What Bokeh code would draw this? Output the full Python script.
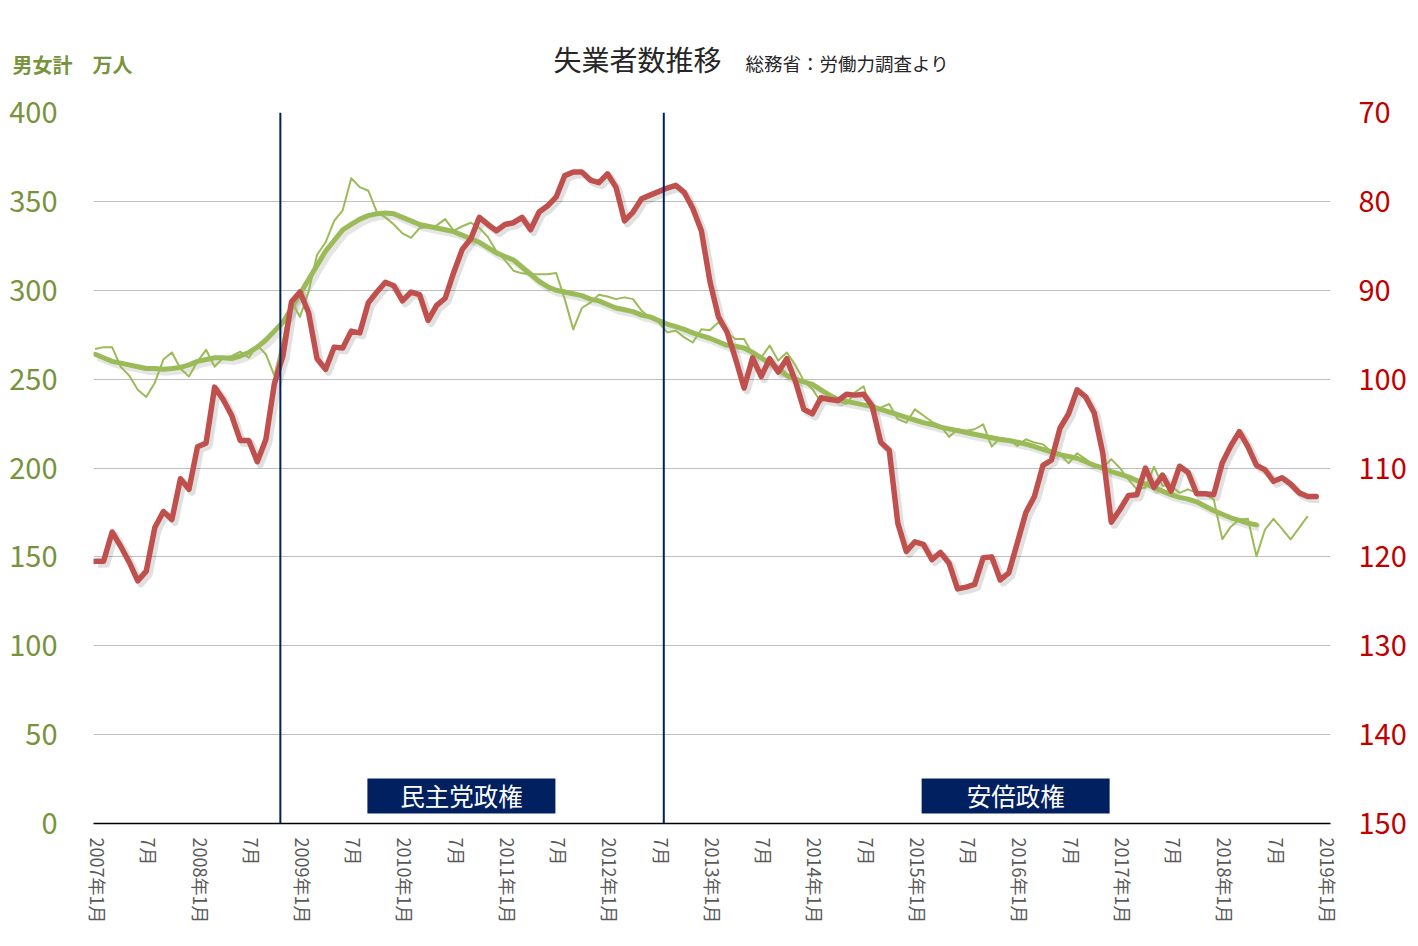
from bokeh.plotting import figure
from bokeh.models import Range1d, LinearAxis, FixedTicker, Span, ColumnDataSource
from bokeh.layouts import column
from bokeh.embed import file_html
from bokeh.resources import INLINE
from bokeh.core.properties import value

# ---------------- data ----------------
# month index 0 = 2007年1月
tick_months = [0, 6, 12, 18, 24, 30, 36, 42, 48, 54, 60, 66, 72, 78, 84, 90,
               96, 102, 108, 114, 120, 126, 132, 138, 144]
tick_labels = ["2007年1月", "7月", "2008年1月", "7月", "2009年1月", "7月",
               "2010年1月", "7月", "2011年1月", "7月", "2012年1月", "7月",
               "2013年1月", "7月", "2014年1月", "7月", "2015年1月", "7月",
               "2016年1月", "7月", "2017年1月", "7月", "2018年1月", "7月",
               "2019年1月"]

# 失業者数 (男女計, 万人) monthly
unemployed = [
    267, 268, 268, 257, 252, 244, 240, 248, 261, 265, 256, 251.5,
    260, 266.5, 257, 262, 263, 265.5, 262, 269, 264, 252, 272, 294,
    285, 299, 320, 327, 339, 345, 363, 358, 356, 344, 341, 337,
    332, 329.5, 335, 335.5, 336.5, 340, 333.5, 336, 338, 335, 330, 322,
    317, 311, 309.5, 309, 309, 309, 309.7, 295, 278, 290, 293, 297.5,
    296.5, 295, 296, 295, 288.5, 284.5, 282, 276.3, 277.2, 273.5, 270.6, 278.1,
    277.5, 282, 276, 272.6, 272.6, 264, 262, 268.9, 260.4, 265, 258, 249,
    244.5, 237, 240.7, 238, 236, 242.6, 246, 231, 234, 236, 227.5, 225.5,
    233, 229.5, 226, 223.8, 217.5, 221.8, 221, 221.8, 224.6, 212, 217, 216,
    212.4, 216.2, 214.3, 213.3, 209, 207.7, 202.6, 208.3, 205, 201, 200, 205,
    200, 193.6, 188, 189, 200.7, 190, 190, 186, 188, 186, 185, 182.3,
    160, 167, 171, 171.4, 150.3, 165.4, 171.4, 165.8, 159.8, 166.3, 172.9,
]

# 移動平均 (万人)
unemployed_avg = [
    264, 262, 260, 259, 258, 257, 256, 256, 255.6, 256, 256.6, 258,
    260, 261, 262, 262, 261.6, 263, 265, 268, 272, 277, 282, 290,
    298, 306, 314, 322, 328, 334, 337, 340, 342, 343, 343.5, 343,
    341, 339, 337, 336, 335, 334, 333, 331, 329, 327, 324, 321,
    319, 317, 313, 309, 305, 302, 300, 299, 298, 297, 295, 294,
    292, 290, 289, 288, 286, 285, 283, 281, 279.5, 278, 276, 274.5,
    273, 271, 269, 268.5, 267.5, 265, 262, 259, 256, 252, 250, 248.5,
    247, 244, 241, 238.5, 237.5, 236.5, 235.5, 234.5, 233, 231.5, 230, 228.5,
    227, 225.5, 224.5, 223, 222, 221, 220, 219, 218, 217, 216, 215.5,
    214.5, 213.5, 212, 210.5, 209, 207.5, 206.5, 205.5, 203.5, 201.5, 200, 198,
    196.5, 195, 193, 191, 189, 187, 185, 183.5, 182.5, 181, 178.5, 176,
    174, 172, 170.5, 169, 168,
]

# 右軸 (反転目盛)
right_series = [
    120.5, 120.5, 117.2, 118.8, 120.6, 122.7, 121.6, 116.7, 114.9, 115.8, 111.2, 112.4,
    107.6, 107.2, 100.9, 102.3, 104.1, 106.9, 106.9, 109.3, 106.8, 100.5, 97.4, 91.3,
    90.2, 92.5, 97.7, 98.9, 96.4, 96.5, 94.6, 94.8, 91.4, 90.2, 89.1, 89.5,
    91.2, 90.2, 90.5, 93.4, 91.7, 90.9, 88.0, 85.4, 84.2, 81.8, 82.6, 83.3,
    82.6, 82.4, 81.8, 83.2, 81.2, 80.5, 79.5, 77.1, 76.7, 76.7, 77.6, 77.9,
    76.9, 78.4, 82.2, 81.2, 79.7, 79.3, 78.9, 78.5, 78.2, 79.0, 80.8, 83.3,
    89.0, 93.0, 94.7, 97.7, 101.0, 97.6, 99.7, 97.7, 99.2, 97.7, 100.2, 103.4,
    103.9, 102.1, 102.3, 102.4, 101.7, 101.8, 101.7, 103.0, 107.1, 108.0, 116.2, 119.4,
    118.3, 118.6, 120.3, 119.5, 120.7, 123.6, 123.4, 123.1, 120.1, 120.0, 122.6, 121.8,
    118.4, 115.0, 113.2, 109.7, 109.1, 105.5, 103.9, 101.2, 102.0, 103.8, 108.3, 116.1,
    114.7, 113.1, 113.0, 110.0, 112.2, 110.8, 112.6, 109.8, 110.5, 112.9, 112.9, 113.0,
    109.4, 107.5, 105.9, 107.6, 109.7, 110.2, 111.5, 111.1, 111.8, 112.8, 113.2, 113.2,
]

left_ticks = [0, 50, 100, 150, 200, 250, 300, 350, 400]
right_ticks = [70, 80, 90, 100, 110, 120, 130, 140, 150]

# regime markers (month index positions) and labels
regime_lines = [21.7, 66.6]
regime_names = ["民主党政権", "安倍政権"]
regime_label_x = [42.9, 107.8]
regime_label_y = [15.5, 15.5]

title_text = "失業者数推移"
subtitle_text = "総務省：労働力調査より"
unit_text = "男女計　万人"

# ---------------- styles ----------------
FONT = "Noto Sans CJK JP"
GREEN = "#9BBB59"
GREEN_TXT = "#77933C"
RED = "#C0504D"
NAVY = "#002060"
W = 1410
HEADER_H = 80

# ---------------- header (title strip) ----------------
hdr = figure(width=W, height=HEADER_H, output_backend="svg", toolbar_location=None,
             x_range=Range1d(0, W), y_range=Range1d(HEADER_H, 0),
             min_border_left=0, min_border_right=0, min_border_top=0,
             min_border_bottom=0)
try:
    hdr.frame_align = False
except Exception:
    pass
hdr.axis.visible = False
hdr.grid.visible = False
hdr.outline_line_color = None
hdr.border_fill_color = "white"
hdr.text(x=[553], y=[58], text=[title_text], text_font=value(FONT),
         text_font_size="28px", text_color="#262626", text_baseline="middle",
         text_align="left")
hdr.text(x=[745], y=[62], text=[subtitle_text], text_font=value(FONT),
         text_font_size="18.5px", text_color="#262626", text_baseline="middle",
         text_align="left")
hdr.text(x=[12], y=[64], text=[unit_text], text_font=value(FONT),
         text_font_size="20px", text_color=GREEN_TXT, text_font_style="bold",
         text_baseline="middle", text_align="left")

# ---------------- main figure ----------------
x0, x1 = -0.18, 144.67
p = figure(width=W, height=938 - HEADER_H, output_backend="svg", toolbar_location=None,
           x_range=Range1d(x0, x1), y_range=Range1d(0, 400),
           min_border_left=93, min_border_right=80, min_border_top=112 - HEADER_H,
           min_border_bottom=115)
p.outline_line_color = None
p.background_fill_color = "white"
p.border_fill_color = "white"

p.extra_y_ranges = {"right": Range1d(start=150, end=70)}

# shadow ranges (shift drawing ~3px right/down)
dx = 3 / 8.54
dyl = 3 * 400 / 711
dyr = 3 * 80 / 711
p.extra_x_ranges = {"sh": Range1d(x0 - dx, x1 - dx)}
p.extra_y_ranges["shl"] = Range1d(0 + dyl, 400 + dyl)
p.extra_y_ranges["shr"] = Range1d(start=150 - dyr, end=70 - dyr)

# grid
p.xgrid.visible = False
p.ygrid.ticker = FixedTicker(ticks=left_ticks)
p.ygrid.grid_line_color = "#BFBFBF"
p.ygrid.grid_line_width = 1

# left axis
ya = p.yaxis[0]
ya.ticker = FixedTicker(ticks=left_ticks)
ya.axis_line_color = None
ya.major_tick_line_color = None
ya.minor_tick_line_color = None
ya.major_tick_out = 0
ya.major_label_text_color = GREEN_TXT
ya.major_label_text_font = FONT
ya.major_label_text_font_size = "29px"
ya.major_label_standoff = 36

# right axis
ra = LinearAxis(y_range_name="right", ticker=FixedTicker(ticks=right_ticks))
ra.axis_line_color = None
ra.major_tick_line_color = None
ra.minor_tick_line_color = None
ra.major_tick_out = 0
ra.major_label_text_color = "#C00000"
ra.major_label_text_font = FONT
ra.major_label_text_font_size = "29px"
ra.major_label_standoff = 28
p.add_layout(ra, "right")

# bottom axis
xa = p.xaxis[0]
label_pos = [m + 0.35 for m in tick_months]
xa.ticker = FixedTicker(ticks=label_pos)
xa.major_label_overrides = {pos: lab for pos, lab in zip(label_pos, tick_labels)}
xa.major_label_orientation = "vertical"
xa.axis_line_color = "black"
xa.axis_line_width = 1.5
xa.major_tick_line_color = None
xa.minor_tick_line_color = None
xa.major_tick_out = 0
xa.major_label_text_color = "#595959"
xa.major_label_text_font = FONT
xa.major_label_text_font_size = "18px"
xa.major_label_standoff = 14

months_thin = list(range(len(unemployed)))
months_avg = list(range(len(unemployed_avg)))
months_red = list(range(len(right_series)))

# shadows
p.line(months_avg, unemployed_avg, x_range_name="sh", y_range_name="shl",
       line_color="#000000", line_alpha=0.10, line_width=7, line_join="round")
p.line(months_red, right_series, x_range_name="sh", y_range_name="shr",
       line_color="#000000", line_alpha=0.12, line_width=7, line_join="round")

# series
p.line(months_thin, unemployed, line_color=GREEN, line_width=2, line_join="round")
p.line(months_avg, unemployed_avg, line_color=GREEN, line_width=5,
       line_join="round", line_cap="round")
p.line(months_red, right_series, y_range_name="right", line_color=RED,
       line_width=5.5, line_join="round", line_cap="round")

# regime lines
for loc in regime_lines:
    p.add_layout(Span(location=loc, dimension="height", line_color=NAVY,
                      line_width=2))

# regime labels
src = ColumnDataSource(dict(x=regime_label_x, y=regime_label_y, t=regime_names))
p.rect(x="x", y="y", width=188, height=35, width_units="screen",
       height_units="screen", fill_color=NAVY, line_color=None, source=src)
p.text(x="x", y="y", text="t", text_color="white", text_font=value(FONT),
       text_font_size="24.5px", text_align="center", text_baseline="middle",
       source=src)

layout = column(hdr, p, spacing=0)
open("out.html", "w").write(file_html(layout, INLINE))
